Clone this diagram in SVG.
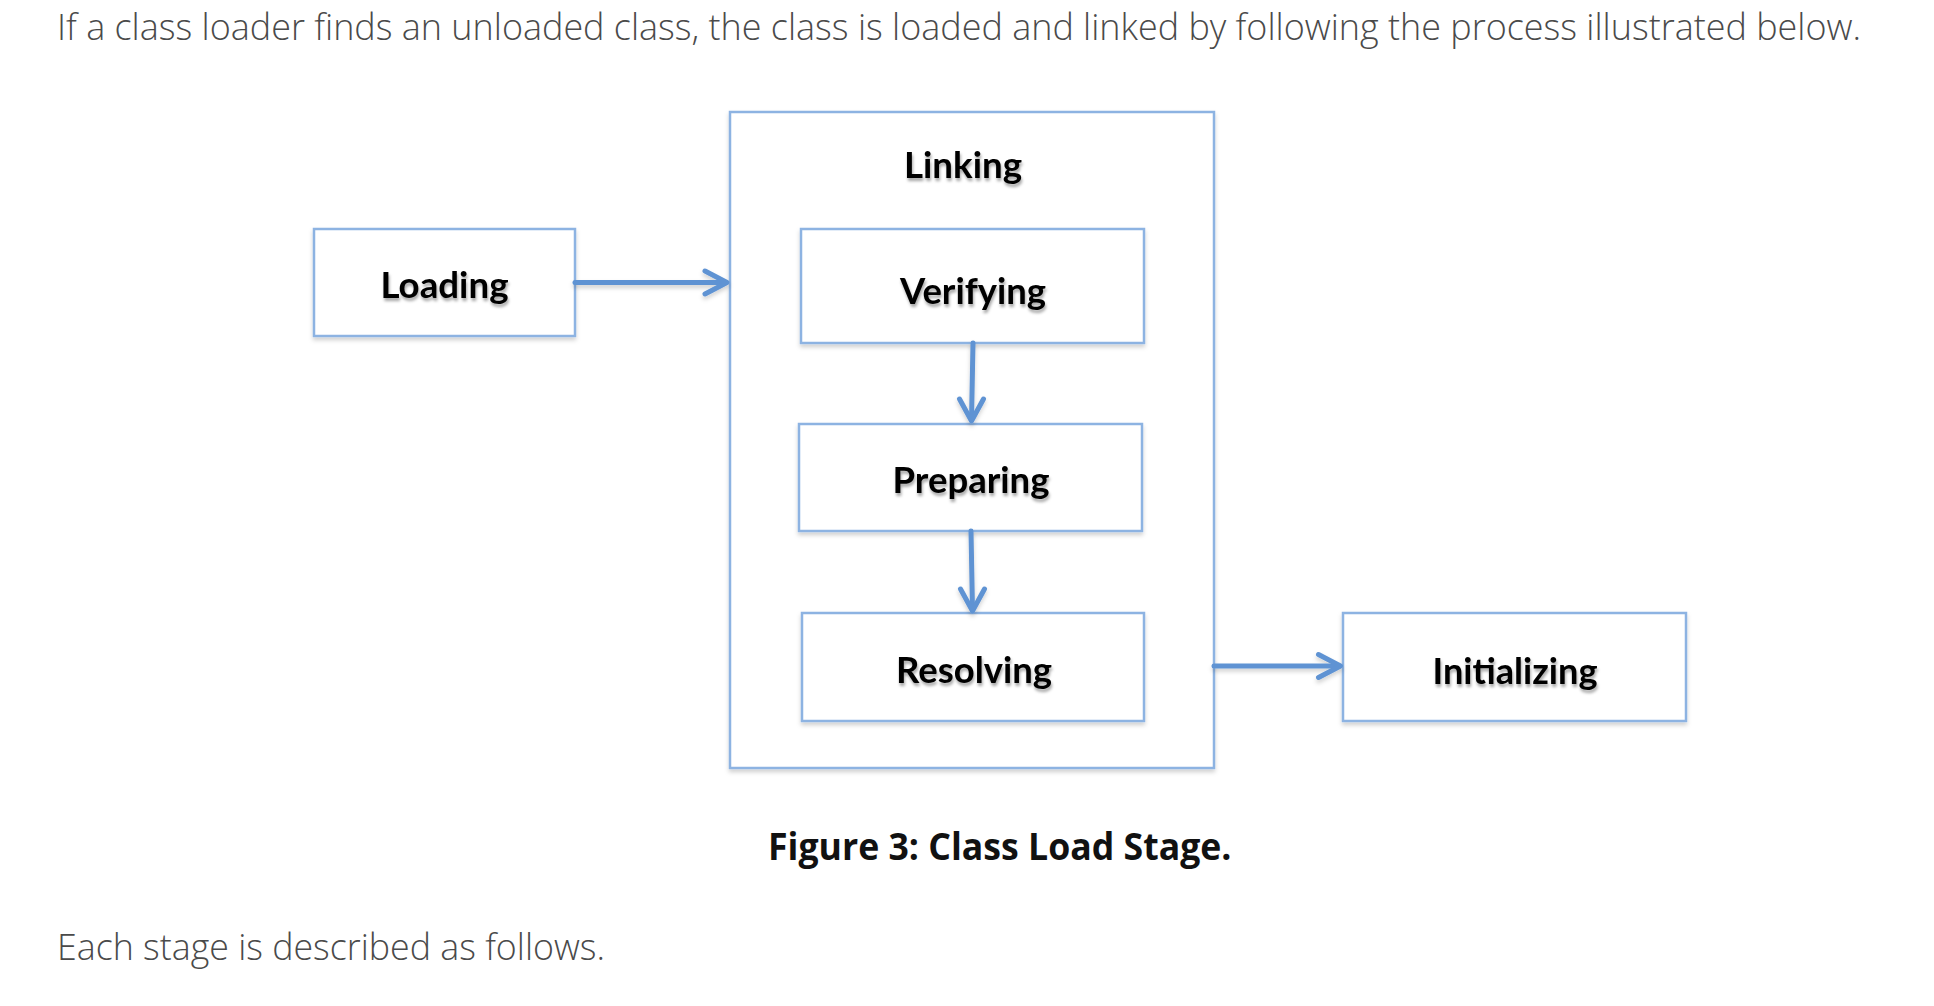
<svg xmlns="http://www.w3.org/2000/svg" width="1934" height="1006" viewBox="0 0 1934 1006">
<style>
.para{font-family:"Open Sans","Liberation Sans",sans-serif;font-weight:300;font-size:36px;fill:#4a4a4a}
.lbl{font-family:Lato,"Open Sans","Liberation Sans",sans-serif;font-weight:700;font-size:37px;fill:#000;text-anchor:start}
.cap{font-family:"Open Sans","Liberation Sans",sans-serif;font-weight:700;font-size:37px;fill:#111}
.box{fill:#fff;stroke:#8db3e2;stroke-width:2.5}
.arr{fill:none;stroke:#5f93d3;stroke-width:5;stroke-linecap:round;stroke-linejoin:round}
</style>
<defs>
<filter id="sh" x="-10%" y="-10%" width="120%" height="130%">
<feDropShadow dx="0" dy="3" stdDeviation="2" flood-color="#000" flood-opacity="0.18"/>
</filter>
<filter id="tsh" x="-10%" y="-20%" width="120%" height="150%">
<feDropShadow dx="1" dy="3" stdDeviation="1.5" flood-color="#000" flood-opacity="0.35"/>
</filter>
</defs>
<rect width="1934" height="1006" fill="#fff"/>
<text class="para" x="57" y="40" textLength="1804" lengthAdjust="spacingAndGlyphs">If a class loader finds an unloaded class, the class is loaded and linked by following the process illustrated below.</text>

<g id="linking">
<rect class="box" x="730" y="112" width="484" height="656" filter="url(#sh)"/>
<text class="lbl" x="904" y="178" textLength="118" lengthAdjust="spacingAndGlyphs" filter="url(#tsh)">Linking</text>
</g>
<g id="loading">
<rect class="box" x="314" y="229" width="261" height="107" filter="url(#sh)"/>
<text class="lbl" x="380.5" y="298" textLength="128" lengthAdjust="spacingAndGlyphs" filter="url(#tsh)">Loading</text>
</g>
<g id="verifying">
<rect class="box" x="801" y="229" width="343" height="114" filter="url(#sh)"/>
<text class="lbl" x="900" y="303.5" textLength="146" lengthAdjust="spacingAndGlyphs" filter="url(#tsh)">Verifying</text>
</g>
<g id="preparing">
<rect class="box" x="799" y="424" width="343" height="107" filter="url(#sh)"/>
<text class="lbl" x="892.5" y="493" textLength="157" lengthAdjust="spacingAndGlyphs" filter="url(#tsh)">Preparing</text>
</g>
<g id="resolving">
<rect class="box" x="802" y="613" width="342" height="108" filter="url(#sh)"/>
<text class="lbl" x="896" y="683" textLength="156" lengthAdjust="spacingAndGlyphs" filter="url(#tsh)">Resolving</text>
</g>
<g id="initializing">
<rect class="box" x="1343" y="613" width="343" height="108" filter="url(#sh)"/>
<text class="lbl" x="1432.5" y="684" textLength="165" lengthAdjust="spacingAndGlyphs" filter="url(#tsh)">Initializing</text>
</g>

<g id="connectors" filter="url(#sh)">
<path class="arr" d="M575 282.5 H726"/>
<path class="arr" d="M705 271 L727 282.5 L705 294"/>
<path class="arr" d="M973 343 L971.5 420"/>
<path class="arr" d="M959.5 399 L971.5 421 L983.5 399"/>
<path class="arr" d="M971 531 L972.5 610"/>
<path class="arr" d="M960.5 589 L972.5 611 L984.5 589"/>
<path class="arr" d="M1214 666 H1339"/>
<path class="arr" d="M1318.5 654.5 L1340.5 666 L1318.5 677.5"/>
</g>

<text class="cap" x="768" y="859.5" textLength="463.5" lengthAdjust="spacingAndGlyphs">Figure 3: Class Load Stage.</text>
<text class="para" x="57" y="960" textLength="548" lengthAdjust="spacingAndGlyphs">Each stage is described as follows.</text>
</svg>
